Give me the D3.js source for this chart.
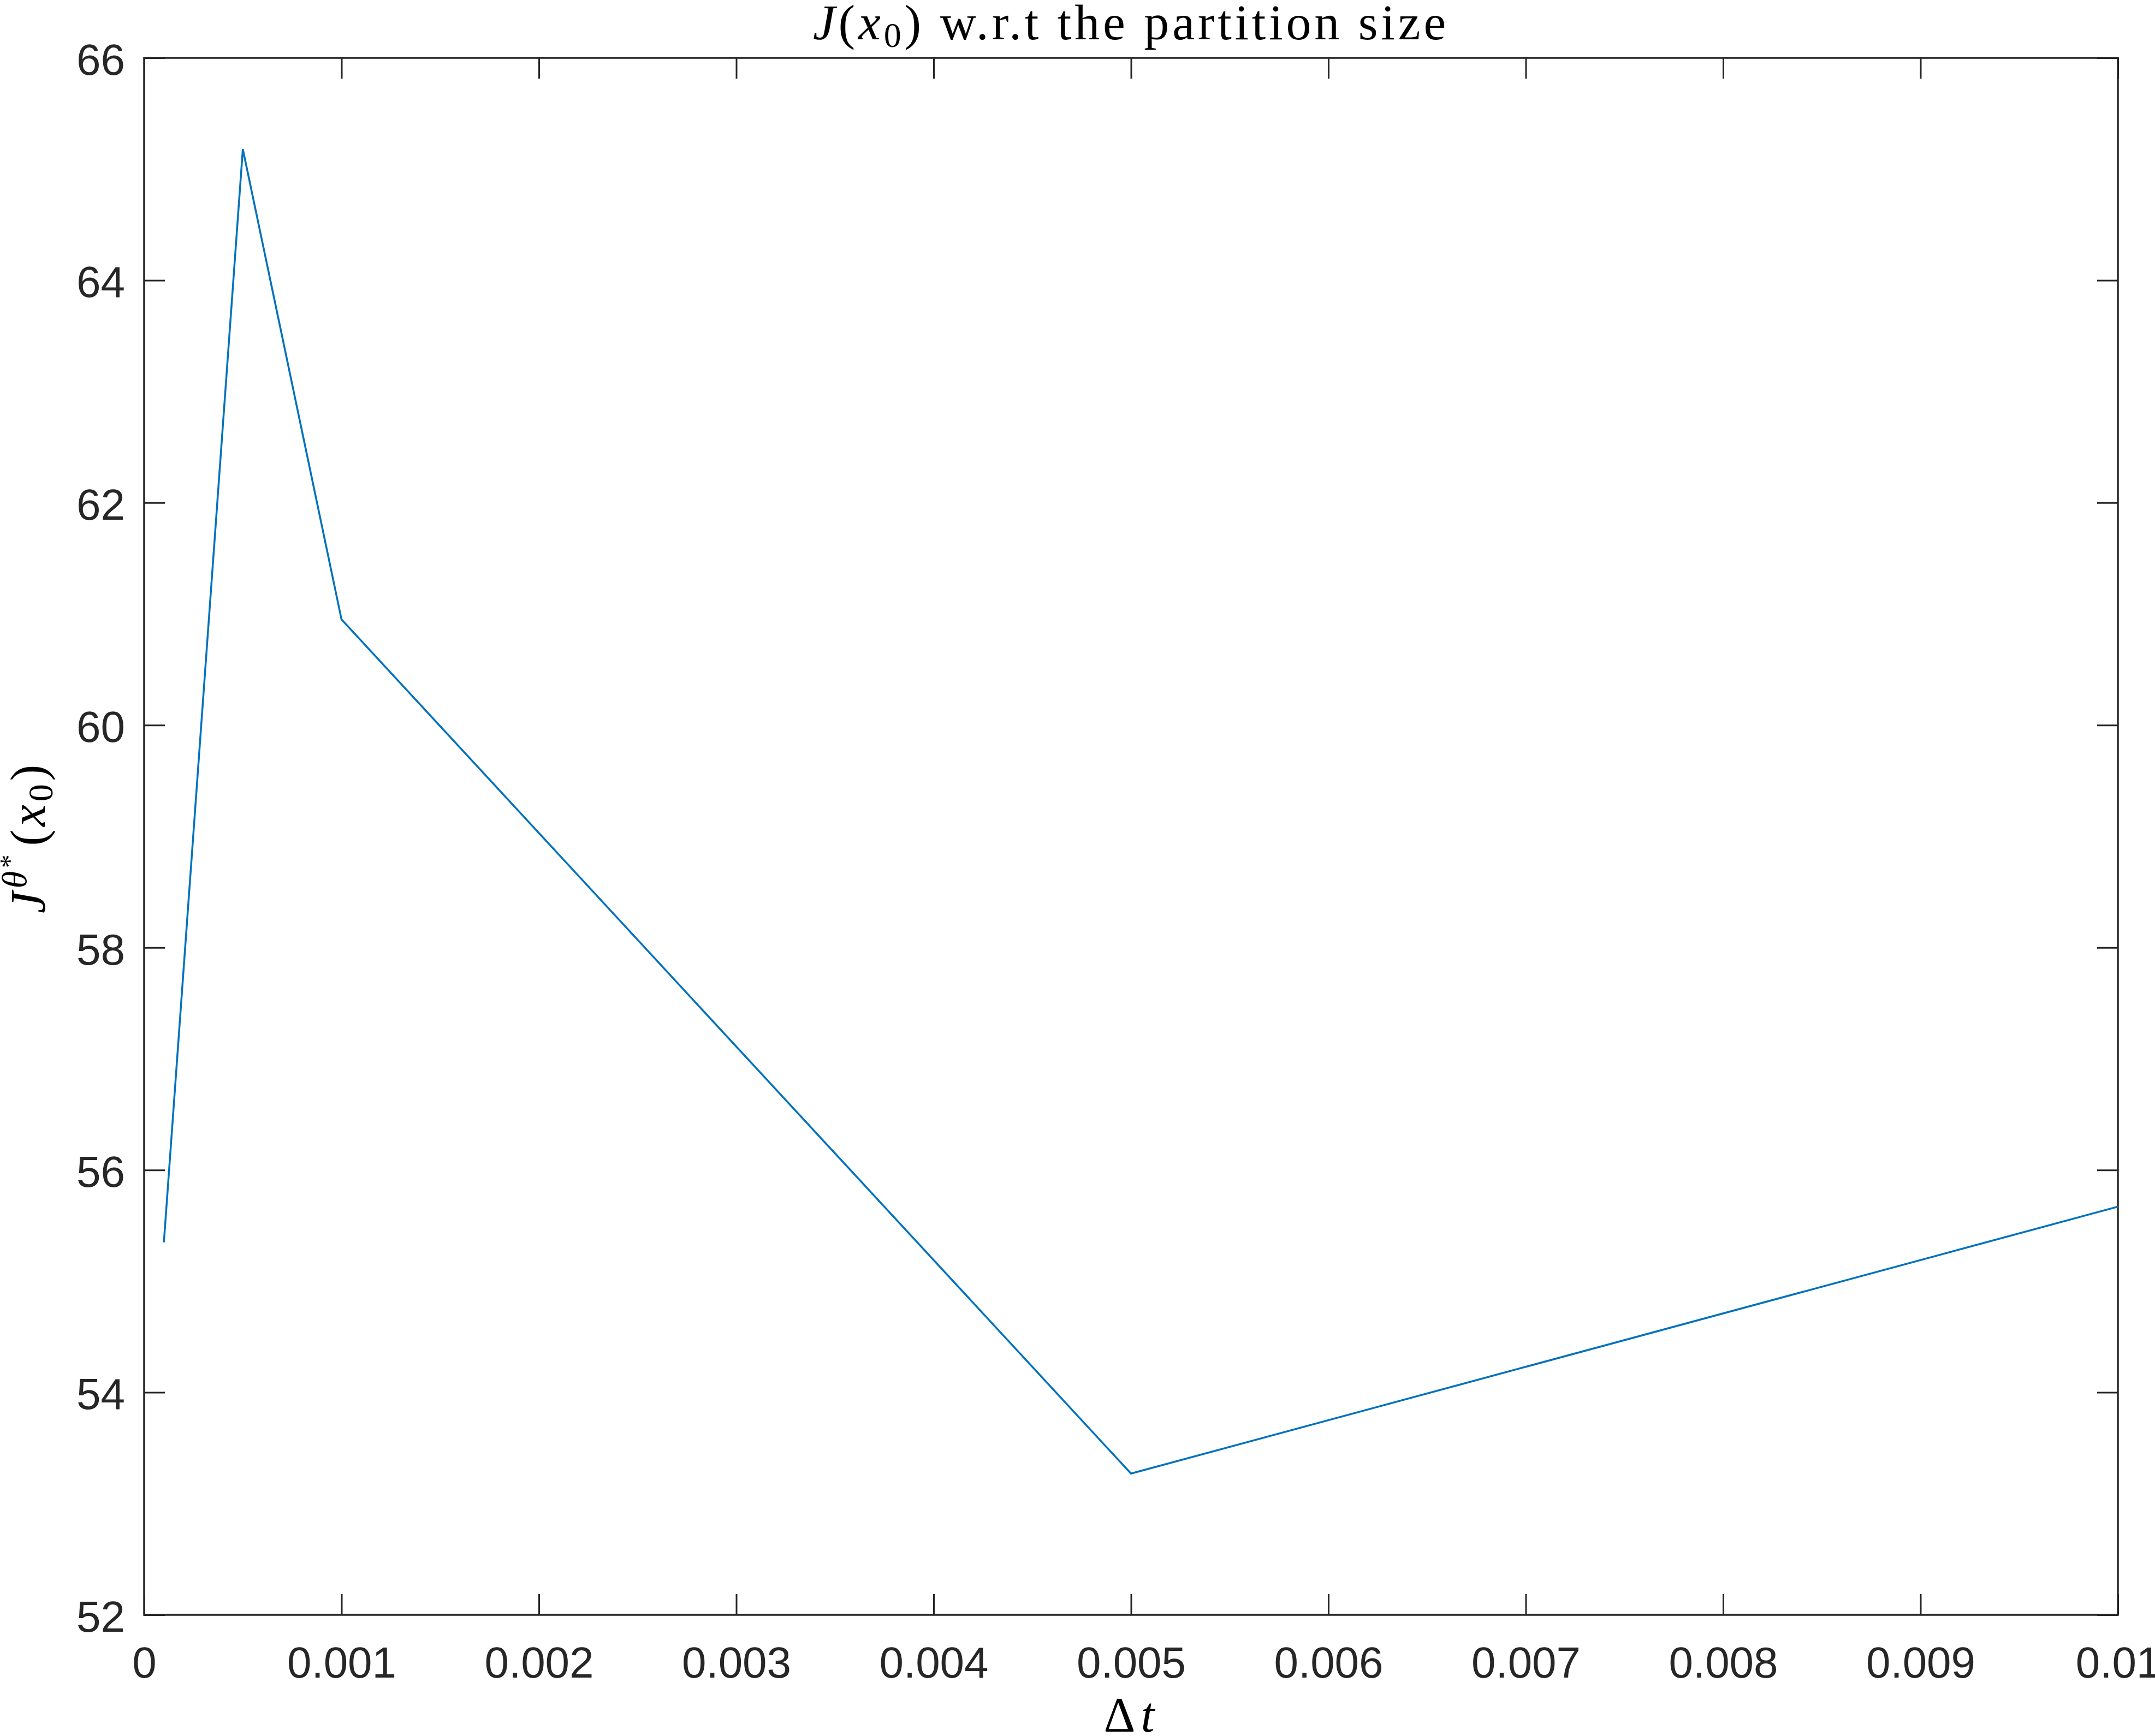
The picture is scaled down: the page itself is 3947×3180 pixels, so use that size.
<!DOCTYPE html>
<html>
<head>
<meta charset="utf-8">
<script src="https://cdn.jsdelivr.net/npm/d3@7"></script>
<style>
  html, body { margin: 0; padding: 0; background: #fff; }
</style>
</head>
<body>
<svg id="chart" width="3947" height="3180"></svg>
<script>
// ---- data ----
const dtValues = [0.0001, 0.0005, 0.001, 0.005, 0.01];
const jValues = [55.35, 65.18, 60.95, 53.27, 55.67];
const xTicks = [0, 0.001, 0.002, 0.003, 0.004, 0.005, 0.006, 0.007, 0.008, 0.009, 0.01];
const xTickLabels = ["0", "0.001", "0.002", "0.003", "0.004", "0.005", "0.006", "0.007", "0.008", "0.009", "0.01"];
const yTicks = [52, 54, 56, 58, 60, 62, 64, 66];
const yTickLabels = ["52", "54", "56", "58", "60", "62", "64", "66"];

// ---- layout ----
const W = 3947, H = 3180;
const m = { left: 264, right: W - 3879, top: 106, bottom: H - 2958 };
const svg = d3.select("#chart");
const pw = W - m.left - m.right, ph = H - m.top - m.bottom;

const x = d3.scaleLinear().domain([0, 0.01]).range([0, pw]);
const y = d3.scaleLinear().domain([52, 66]).range([ph, 0]);

const g = svg.append("g").attr("transform", `translate(${m.left},${m.top})`);

const axisColor = "#262626";
const tickLen = 38;
const tickFont = "'Liberation Sans', Arial, Helvetica, sans-serif";
const serif = "'Liberation Serif', 'DejaVu Serif', serif";

// bottom axis
const xb = g.append("g").attr("transform", `translate(0,${ph})`)
  .call(d3.axisBottom(x).tickValues(xTicks).tickFormat((d, i) => xTickLabels[i])
    .tickSizeInner(-tickLen).tickSizeOuter(0).tickPadding(58));
// top axis (mirror ticks)
const xt = g.append("g")
  .call(d3.axisTop(x).tickValues(xTicks).tickFormat("").tickSizeInner(-tickLen).tickSizeOuter(0));
// left axis
const yl = g.append("g")
  .call(d3.axisLeft(y).tickValues(yTicks).tickFormat((d, i) => yTickLabels[i])
    .tickSizeInner(-tickLen).tickSizeOuter(0).tickPadding(35));
// right axis
const yr = g.append("g").attr("transform", `translate(${pw},0)`)
  .call(d3.axisRight(y).tickValues(yTicks).tickFormat("").tickSizeInner(-tickLen).tickSizeOuter(0));

[xb, xt, yl, yr].forEach(a => {
  a.select(".domain").remove();
  a.selectAll(".tick line").attr("stroke", axisColor).attr("stroke-width", 3);
  a.selectAll(".tick text").attr("fill", axisColor).attr("font-family", tickFont).attr("font-size", 80);
});
xb.selectAll(".tick text").attr("dy", "0.71em");
yl.selectAll(".tick text").attr("dy", "0.38em");

// box
g.append("rect").attr("x", 0).attr("y", 0).attr("width", pw).attr("height", ph)
  .attr("fill", "none").attr("stroke", axisColor).attr("stroke-width", 3.5);

// data line
const line = d3.line().x((d, i) => x(dtValues[i])).y(d => y(d));
g.append("path").datum(jValues)
  .attr("d", line)
  .attr("fill", "none")
  .attr("stroke", "#0072BD")
  .attr("stroke-width", 3.5)
  .attr("stroke-linejoin", "miter");

function fitWidth(sel, target) {
  const n = sel.text().length;
  const w = sel.node().getComputedTextLength();
  sel.attr("letter-spacing", Math.max(0, (target - w) / n));
}

// title
const title = svg.append("text")
  .attr("x", m.left + pw / 2).attr("y", 72)
  .attr("text-anchor", "middle")
  .attr("font-family", serif).attr("font-size", 92).attr("fill", "#000");
title.append("tspan").attr("font-style", "italic").text("J");
title.append("tspan").text("(");
title.append("tspan").attr("font-style", "italic").text("x");
title.append("tspan").attr("font-size", 64).attr("dy", 14).text("0");
title.append("tspan").attr("dy", -14).text(") w.r.t the partition size");
fitWidth(title, 1165);

// x label
const xl = svg.append("text")
  .attr("x", 2073).attr("y", 3172)
  .attr("text-anchor", "middle")
  .attr("font-family", serif).attr("font-size", 90).attr("fill", "#000");
xl.append("tspan").text("Δ");
xl.append("tspan").attr("font-style", "italic").text("t");
fitWidth(xl, 103);

// y label
const ylab = svg.append("text")
  .attr("transform", `translate(82,1534) rotate(-90)`)
  .attr("text-anchor", "middle")
  .attr("font-family", serif).attr("font-size", 90).attr("fill", "#000");
ylab.append("tspan").attr("font-style", "italic").text("J");
ylab.append("tspan").attr("font-style", "italic").attr("font-size", 64).attr("dy", -34).text("θ");
ylab.append("tspan").attr("font-size", 50).attr("dy", -14).text("*");
ylab.append("tspan").attr("dy", 48).attr("dx", 10).text("(");
ylab.append("tspan").attr("font-style", "italic").text("x");
ylab.append("tspan").attr("font-size", 64).attr("dy", 14).text("0");
ylab.append("tspan").attr("dy", -14).text(")");
fitWidth(ylab, 268);
</script>
</body>
</html>
